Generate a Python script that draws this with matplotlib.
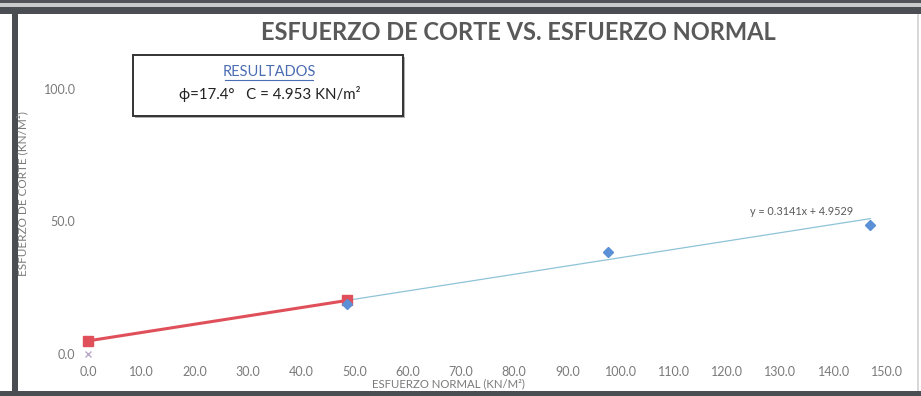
import numpy as np
import matplotlib
matplotlib.use("Agg")
import matplotlib.pyplot as plt
from matplotlib.patches import Rectangle
from matplotlib.lines import Line2D

# ── Data ──────────────────────────────────────────────────────────────────────
normal_pts = [48.6, 97.7, 146.9]          # ESFUERZO NORMAL (KN/m²)
shear_pts  = [18.9, 38.5, 48.7]           # ESFUERZO DE CORTE (KN/m²)
envelope_x = [0.0, 48.6]                  # red Mohr-Coulomb segment
envelope_y = [4.953, 20.2]
origin_x   = [0.0]
origin_y   = [0.0]
slope, intercept = 0.3141, 4.9529         # Excel trendline
phi_deg, cohesion = 17.4, 4.953

x_ticks = np.arange(0, 151, 10)
y_ticks = [0, 50, 100]

grey = "#595959"
tick_grey = "#7a7a7a"
plt.rcParams["font.family"] = ["Lato", "DejaVu Sans"]

fig = plt.figure(figsize=(9.21, 3.96), dpi=100)
W, H = 921, 396

def fx(px): return px / W
def fy(py): return 1 - py / H

# ── scanned frame ─────────────────────────────────────────────────────────────
for (x0, y0, w, h, c) in [(0, 0, 921, 3, "#505458"), (0, 3, 921, 4, "#c8cacc"),
                          (0, 7, 921, 7, "#4a4e52"), (12, 7, 6, 385, "#4a4e52"),
                          (0, 391, 921, 5, "#4a4e52"), (917, 14, 2, 377, "#d8d8d8")]:
    fig.add_artist(Rectangle((fx(x0), fy(y0 + h)), w / W, h / H,
                             transform=fig.transFigure, color=c, lw=0, zorder=0))

ax = fig.add_axes([fx(88), fy(354), (887 - 88) / W, (354 - 89) / H])
ax.set_xlim(0, 150)
ax.set_ylim(0, 100)
for s in ax.spines.values():
    s.set_visible(False)
ax.set_xticks(x_ticks)
ax.set_xticklabels([f"{v:.1f}" for v in x_ticks])
ax.set_yticks(y_ticks)
ax.set_yticklabels([f"{v:.1f}" for v in y_ticks])
ax.tick_params(length=0, labelsize=9, labelcolor=tick_grey)
ax.tick_params(axis="x", pad=9)
ax.tick_params(axis="y", pad=9)

# trendline over the data range
tx = np.array([min(normal_pts), max(normal_pts)])
ax.plot(tx, slope * tx + intercept, color="#8ec3d6", lw=0.9, zorder=2)
ax.plot(envelope_x, envelope_y, color="#e0505a", lw=2.2, marker="s", ms=6.5,
        mfc="#e0505a", mec="#e0505a", zorder=3, clip_on=False)
ax.plot(normal_pts, shear_pts, ls="none", marker="D", ms=5.5, color="#5b8fd6",
        zorder=4, clip_on=False)
ax.plot(origin_x, origin_y, ls="none", marker="x", ms=5, color="#b8a8c8",
        mew=1, zorder=4, clip_on=False)

ax.text(134.0, 53.6, f"y = {slope}x + {intercept}", fontsize=7.8, color=grey,
        ha="center", va="center")

# axis titles
fig.text(fx(448), fy(384), "ESFUERZO NORMAL (KN/M²)", fontsize=8.2, color=tick_grey,
         ha="center", va="center")
fig.text(fx(22), fy(194), "ESFUERZO DE CORTE (KN/M²)", fontsize=8.5, color=tick_grey,
         ha="center", va="center", rotation=90)

# chart title
fig.text(fx(518), fy(32), "ESFUERZO DE CORTE VS. ESFUERZO NORMAL", fontsize=17,
         fontweight="bold", color=grey, ha="center", va="center")

# results box
fig.add_artist(Rectangle((fx(135), fy(118)), (403 - 133) / W, (116 - 55) / H,
                         transform=fig.transFigure, fc="#b0b0b0", ec="none", zorder=5))
fig.add_artist(Rectangle((fx(133), fy(116)), (403 - 133) / W, (116 - 55) / H,
                         transform=fig.transFigure, fc="white", ec="#333333",
                         lw=1.4, zorder=6))
fig.text(fx(269), fy(72), "RESULTADOS", fontsize=10.5, color="#4a6cb3",
         ha="center", va="center", zorder=7)
fig.add_artist(Line2D([fx(225), fx(313)], [fy(80), fy(80)], color="#4a6cb3",
                      lw=0.8, zorder=7))
fig.text(fx(270), fy(94), f"ϕ={phi_deg}°   C = {cohesion} KN/m²", fontsize=10.8,
         color="#222222", ha="center", va="center", zorder=7,
         family=["Lato", "DejaVu Sans"])

fig.savefig("out.png", dpi=100)
